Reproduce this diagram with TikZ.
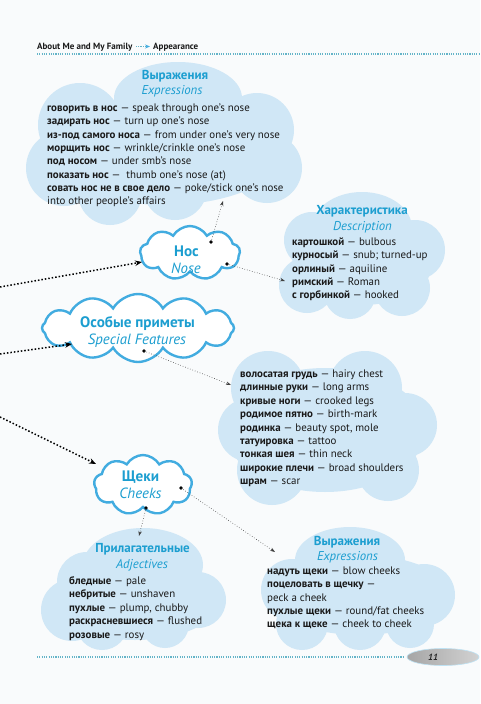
\documentclass[tikz,border=0pt]{standalone}
\usepackage{fontspec}
\setmainfont{PT Sans}
\usetikzlibrary{shapes.symbols,shapes.geometric,arrows.meta}
\definecolor{bg}{RGB}{249,251,252}
\definecolor{cfill}{RGB}{208,231,246}
\definecolor{cline}{RGB}{66,172,224}
\definecolor{ctitle}{RGB}{28,158,208}
\definecolor{txt}{RGB}{25,25,25}
\definecolor{hline}{RGB}{100,180,200}
\begin{document}
\begin{tikzpicture}[x=1pt,y=-1pt,
  body/.style={font=\fontsize{10.9}{12}\selectfont, text=txt, inner sep=0pt, anchor=base west},
  ttl/.style={font=\bfseries\fontsize{13}{15}\selectfont, text=ctitle, inner sep=0pt, anchor=base},
  sub/.style={font=\itshape\fontsize{12.8}{15}\selectfont, text=ctitle, inner sep=0pt, anchor=base},
  bigttl/.style={font=\bfseries\fontsize{15.2}{17}\selectfont, text=ctitle, inner sep=0pt, anchor=base},
  bigsub/.style={font=\itshape\fontsize{14.8}{17}\selectfont, text=ctitle, inner sep=0pt, anchor=base},
  hdr/.style={font=\bfseries\fontsize{9}{10}\selectfont, text=txt, inner sep=0pt, anchor=base west},
  cloudbox/.style={cloud, cloud puffs=9, cloud puff arc=120, cloud ignores aspect, draw=cline, line width=2.4pt, fill=white, inner sep=0pt},
  thickarrow/.style={line width=1.5pt, dash pattern=on 1.5pt off 2pt, -{Stealth[length=7pt,width=5.5pt]}},
  thinarrow/.style={line width=0.6pt, dotted, draw=black!75, -{Stealth[length=5pt,width=3.5pt]}},
  dotmark/.style={fill=black},
  hdots/.style={draw=hline, line width=1.1pt, dash pattern=on 1.1pt off 1.2pt}
]
\useasboundingbox (0,0) rectangle (480,704);
\fill[bg] (0,0) rectangle (480,704);

% header
\node[hdr] (h1) at (37,49) {About Me and My Family};
\node[hdr] (h2) at (153,49) {Appearance};
\coordinate (ha) at (136,46.5);
\coordinate (hb) at (150,46.5);
\draw[draw=hline, line width=0.8pt, dash pattern=on 0.8pt off 1pt, -{Stealth[length=5pt,width=4pt,color=cline]}] (ha) -- (hb);
\coordinate (hl1) at (37,54);
\coordinate (hl2) at (480,54);
\draw[hdots] (hl1) -- (hl2);

% light clouds
\fill[cfill] (178,98) ellipse[x radius=64, y radius=36]
  (80,125) circle[radius=42] (64,168) circle[radius=38] (110,193) circle[radius=32]
  (175,188) circle[radius=32] (257,130) circle[radius=37] (267,168) circle[radius=35]
  (165,150) ellipse[x radius=120, y radius=55];
\fill[cfill] (362,228) ellipse[x radius=50, y radius=36]
  (312,240) circle[radius=28] (307,285) circle[radius=28] (350,293) circle[radius=26]
  (402,288) circle[radius=28] (415,250) circle[radius=30]
  (362,265) ellipse[x radius=70, y radius=40];
\fill[cfill] (268,388) circle[radius=37] (365,388) circle[radius=37]
  (405,425) circle[radius=32] (388,470) circle[radius=31] (272,470) circle[radius=35]
  (250,430) circle[radius=32] (325,430) ellipse[x radius=100, y radius=62];
\fill[cfill] (143,565) ellipse[x radius=60, y radius=37]
  (87,582) circle[radius=30] (72,610) circle[radius=31] (102,624) circle[radius=26]
  (165,624) circle[radius=24] (198,600) circle[radius=28]
  (135,600) ellipse[x radius=85, y radius=40];
\fill[cfill] (350,560) ellipse[x radius=55, y radius=33]
  (292,590) circle[radius=31] (302,624) circle[radius=26] (360,624) circle[radius=26]
  (424,595) circle[radius=31] (410,624) circle[radius=24]
  (360,595) ellipse[x radius=90, y radius=40];

% outlined clouds
\node[cloudbox, minimum width=100pt, minimum height=54pt] (nos) at (190,253) {};
\node[cloudbox, cloud puffs=12, minimum width=192pt, minimum height=68pt] (osob) at (138,328) {};
\node[cloudbox, minimum width=98pt, minimum height=60pt] (sch) at (143,485) {};

% texts top cloud
\node[ttl] (t0) at (175,79.5) {Выражения};
\node[sub] (t00) at (172,94.5) {Expressions};
\foreach \t [count=\i] in {
  {\textbf{говорить в нос} — speak through one's nose},
  {\textbf{задирать нос} — turn up one's nose},
  {\textbf{из-под самого носа} — from under one's very nose},
  {\textbf{морщить нос} — wrinkle/crinkle one's nose},
  {\textbf{под носом} — under smb's nose},
  {\textbf{показать нос} — \ thumb one's nose (at)},
  {\textbf{совать нос не в свое дело} — poke/stick one's nose},
  {into other people's affairs}}
  \node[body] (ta\i) at (47,{111.5+(\i-1)*13.3}) {\t};

% Характеристика
\node[ttl] (c0) at (362,214.5) {Характеристика};
\node[sub] (c00) at (362.5,230.5) {Description};
\foreach \t [count=\i] in {
  {\textbf{картошкой} — bulbous},
  {\textbf{курносый} — snub; turned-up},
  {\textbf{орлиный} — aquiline},
  {\textbf{римский} — Roman},
  {\textbf{с горбинкой} — hooked}}
  \node[body] (ca\i) at (292,{245.5+(\i-1)*13.3}) {\t};

% body features
\foreach \t [count=\i] in {
  {\textbf{волосатая грудь} — hairy chest},
  {\textbf{длинные руки} — long arms},
  {\textbf{кривые ноги} — crooked legs},
  {\textbf{родимое пятно} — birth-mark},
  {\textbf{родинка} — beauty spot, mole},
  {\textbf{татуировка} — tattoo},
  {\textbf{тонкая шея} — thin neck},
  {\textbf{широкие плечи} — broad shoulders},
  {\textbf{шрам} — scar}}
  \node[body] (ba\i) at (240,{377.5+(\i-1)*13.4}) {\t};

% Прилагательные
\node[ttl] (p0) at (142.5,552.5) {Прилагательные};
\node[sub] (p00) at (142,568.5) {Adjectives};
\foreach \t [count=\i] in {
  {\textbf{бледные} — pale},
  {\textbf{небритые} — unshaven},
  {\textbf{пухлые} — plump, chubby},
  {\textbf{раскрасневшиеся} — flushed},
  {\textbf{розовые} — rosy}}
  \node[body] (pa\i) at (69,{584.5+(\i-1)*13.4}) {\t};

% Выражения 2
\node[ttl] (e0) at (347,545.5) {Выражения};
\node[sub] (e00) at (347.5,560.5) {Expressions};
\foreach \t [count=\i] in {
  {\textbf{надуть щеки} — blow cheeks},
  {\textbf{поцеловать в щечку} —},
  {peck a cheek},
  {\textbf{пухлые щеки} — round/fat cheeks},
  {\textbf{щека к щеке} — cheek to cheek}}
  \node[body] (ea\i) at (267,{574.5+(\i-1)*13.3}) {\t};

% outlined cloud texts
\node[bigttl] (n1) at (186.5,256) {Нос};
\node[bigsub] (n2) at (186,273) {Nose};
\node[bigttl] (o1) at (137.5,327) {Особые приметы};
\node[bigsub] (o2) at (137,344) {Special Features};
\node[bigttl] (s1) at (140.5,481) {Щеки};
\node[bigsub] (s2) at (140.5,498) {Cheeks};

% thick arrows from left
\coordinate (L1) at (0,287); \coordinate (T1) at (142,262);
\coordinate (L2) at (0,354); \coordinate (T2) at (72,344);
\coordinate (L3) at (0,417); \coordinate (T3) at (96,464);
\draw[thickarrow] (L1) -- (T1);
\draw[thickarrow] (L2) -- (T2);
\draw[thickarrow] (L3) -- (T3);

% thin arrows
\coordinate (d1) at (211,242); \coordinate (e1) at (223,201);
\coordinate (d2) at (227,264); \coordinate (e2) at (285,281);
\coordinate (d3) at (144,351); \coordinate (e3) at (231,385);
\coordinate (d4) at (146,508); \coordinate (e4) at (139,536);
\coordinate (d5) at (181,488); \coordinate (e5) at (275,552);
\foreach \k in {1,...,5} {
  \fill[dotmark] (d\k) circle[radius=1.8];
  \draw[thinarrow] (d\k) -- (e\k);
}

% footer
\coordinate (f1) at (37,657); \coordinate (f2) at (404,657);
\draw[hdots] (f1) -- (f2);
\node[ellipse, minimum width=72pt, minimum height=17pt, inner sep=0pt, draw=cline!35, line width=0.6pt,
  left color=gray!70, middle color=white, right color=gray!35] (pg) at (443,657) {};
\node[font=\bfseries\itshape\fontsize{9}{10}\selectfont, text=black!85, inner sep=0pt] (pgn) at (433,657) {11};
\end{tikzpicture}
\end{document}
